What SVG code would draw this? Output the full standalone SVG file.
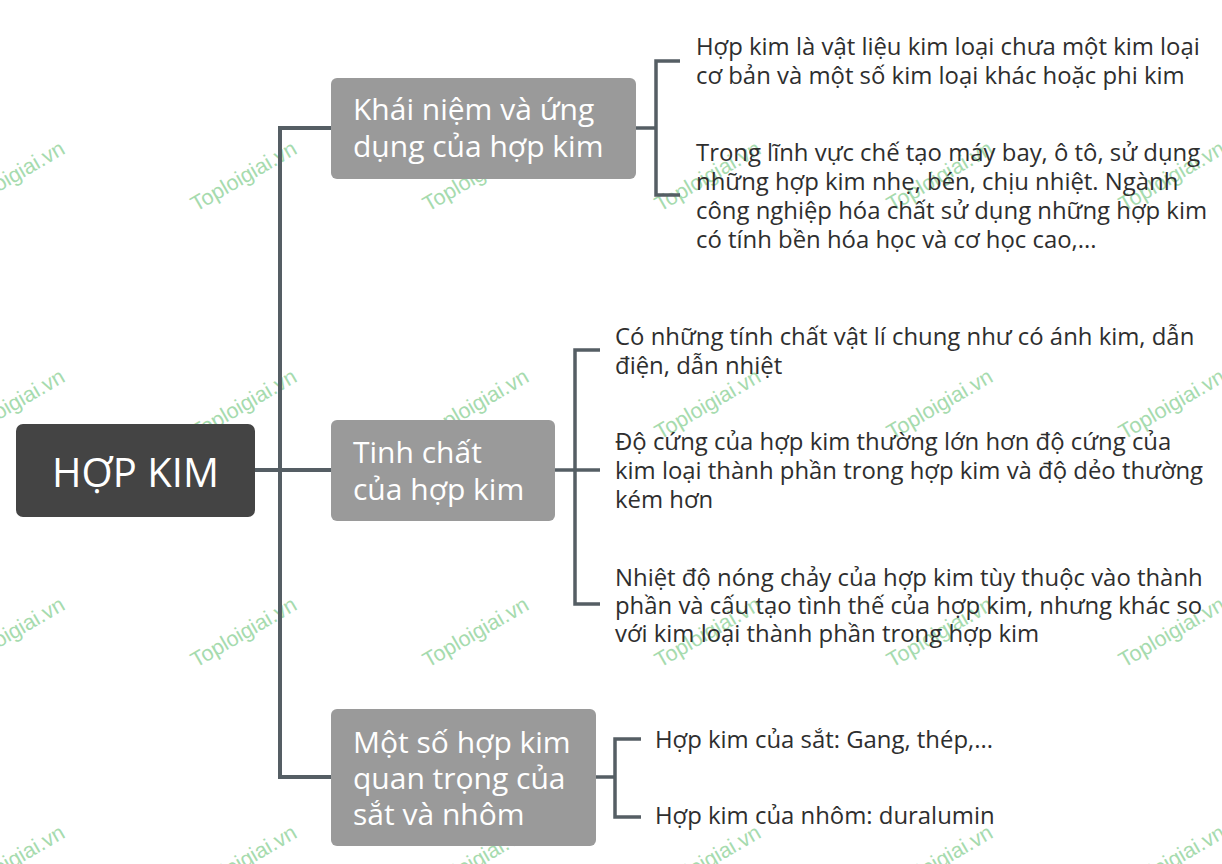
<svg xmlns="http://www.w3.org/2000/svg" width="1222" height="864" viewBox="0 0 1222 864">
<style>
.wm{font-family:"Liberation Sans",Arial,sans-serif;font-size:21.5px;fill:#a6dbae}
.ln{fill:none;stroke:#555e64;stroke-linecap:butt;stroke-linejoin:miter}
.trunk{stroke-width:4}
.br{stroke-width:3.5}
.root{fill:#444444}
.sub{fill:#9a9a9a}
.rt{font-family:"Open Sans","Noto Sans",sans-serif;font-size:40px;fill:#ffffff}
.st{font-family:"Open Sans","Noto Sans",sans-serif;font-size:30px;fill:#ffffff}
.lt{font-family:"Open Sans","Noto Sans",sans-serif;font-size:23.9px;fill:#2e2e2e}
</style>
<rect width="1222" height="864" fill="#ffffff"/>
<g id="watermarks">
<text class="wm" transform="translate(-36,212) rotate(-30)">Toploigiai.vn</text>
<text class="wm" transform="translate(196,212) rotate(-30)">Toploigiai.vn</text>
<text class="wm" transform="translate(428,212) rotate(-30)">Toploigiai.vn</text>
<text class="wm" transform="translate(660,212) rotate(-30)">Toploigiai.vn</text>
<text class="wm" transform="translate(892,212) rotate(-30)">Toploigiai.vn</text>
<text class="wm" transform="translate(1124,212) rotate(-30)">Toploigiai.vn</text>
<text class="wm" transform="translate(-36,440) rotate(-30)">Toploigiai.vn</text>
<text class="wm" transform="translate(196,440) rotate(-30)">Toploigiai.vn</text>
<text class="wm" transform="translate(428,440) rotate(-30)">Toploigiai.vn</text>
<text class="wm" transform="translate(660,440) rotate(-30)">Toploigiai.vn</text>
<text class="wm" transform="translate(892,440) rotate(-30)">Toploigiai.vn</text>
<text class="wm" transform="translate(1124,440) rotate(-30)">Toploigiai.vn</text>
<text class="wm" transform="translate(-36,668) rotate(-30)">Toploigiai.vn</text>
<text class="wm" transform="translate(196,668) rotate(-30)">Toploigiai.vn</text>
<text class="wm" transform="translate(428,668) rotate(-30)">Toploigiai.vn</text>
<text class="wm" transform="translate(660,668) rotate(-30)">Toploigiai.vn</text>
<text class="wm" transform="translate(892,668) rotate(-30)">Toploigiai.vn</text>
<text class="wm" transform="translate(1124,668) rotate(-30)">Toploigiai.vn</text>
<text class="wm" transform="translate(-36,896) rotate(-30)">Toploigiai.vn</text>
<text class="wm" transform="translate(196,896) rotate(-30)">Toploigiai.vn</text>
<text class="wm" transform="translate(428,896) rotate(-30)">Toploigiai.vn</text>
<text class="wm" transform="translate(660,896) rotate(-30)">Toploigiai.vn</text>
<text class="wm" transform="translate(892,896) rotate(-30)">Toploigiai.vn</text>
<text class="wm" transform="translate(1124,896) rotate(-30)">Toploigiai.vn</text>
</g>
<g id="connectors">
<path class="ln trunk" d="M255,470 H331"/>
<path class="ln trunk" d="M331,128 H280 V777 H331"/>
<path class="ln br" d="M636,128 H656"/>
<path class="ln br" d="M680,61 H656 V195 H680"/>
<path class="ln br" d="M555,470 H600"/>
<path class="ln br" d="M600,350 H575 V604 H600"/>
<path class="ln br" d="M596,777 H615"/>
<path class="ln br" d="M641,739 H615 V817 H641"/>
</g>
<g id="node-root">
<rect class="root" x="16" y="424" width="239" height="93" rx="7"/>
<text class="rt" x="135.5" y="487" text-anchor="middle">HỢP KIM</text>
</g>
<g id="node-khai-niem">
<rect class="sub" x="331" y="78" width="305" height="101" rx="6"/>
<text class="st" x="353" y="120">Khái niệm và ứng</text>
<text class="st" x="353" y="157">dụng của hợp kim</text>
</g>
<g id="node-tinh-chat">
<rect class="sub" x="331" y="420" width="224" height="101" rx="6"/>
<text class="st" x="353" y="463">Tinh chất</text>
<text class="st" x="353" y="500">của hợp kim</text>
</g>
<g id="node-mot-so">
<rect class="sub" x="331" y="709" width="265" height="137" rx="6"/>
<text class="st" x="353" y="753">Một số hợp kim</text>
<text class="st" x="353" y="789">quan trọng của</text>
<text class="st" x="353" y="825">sắt và nhôm</text>
</g>
<g id="leaf-1a">
<text class="lt" x="696" y="55">Hợp kim là vật liệu kim loại chưa một kim loại</text>
<text class="lt" x="696" y="84">cơ bản và một số kim loại khác hoặc phi kim</text>
</g>
<g id="leaf-1b">
<text class="lt" x="696" y="161">Trong lĩnh vực chế tạo máy bay, ô tô, sử dụng</text>
<text class="lt" x="696" y="190">những hợp kim nhẹ, bén, chịu nhiệt. Ngành</text>
<text class="lt" x="696" y="219">công nghiệp hóa chất sử dụng những hợp kim</text>
<text class="lt" x="696" y="248">có tính bền hóa học và cơ học cao,...</text>
</g>
<g id="leaf-2a">
<text class="lt" x="615" y="345">Có những tính chất vật lí chung như có ánh kim, dẫn</text>
<text class="lt" x="615" y="374">điện, dẫn nhiệt</text>
</g>
<g id="leaf-2b">
<text class="lt" x="615" y="450">Độ cứng của hợp kim thường lớn hơn độ cứng của</text>
<text class="lt" x="615" y="479">kim loại thành phần trong hợp kim và độ dẻo thường</text>
<text class="lt" x="615" y="508">kém hơn</text>
</g>
<g id="leaf-2c">
<text class="lt" x="615" y="586">Nhiệt độ nóng chảy của hợp kim tùy thuộc vào thành</text>
<text class="lt" x="615" y="614">phần và cấu tạo tình thế của hợp kim, nhưng khác so</text>
<text class="lt" x="615" y="642">với kim loại thành phần trong hợp kim</text>
</g>
<g id="leaf-3a">
<text class="lt" x="655" y="748">Hợp kim của sắt: Gang, thép,...</text>
</g>
<g id="leaf-3b">
<text class="lt" x="655" y="824">Hợp kim của nhôm: duralumin</text>
</g>
</svg>
